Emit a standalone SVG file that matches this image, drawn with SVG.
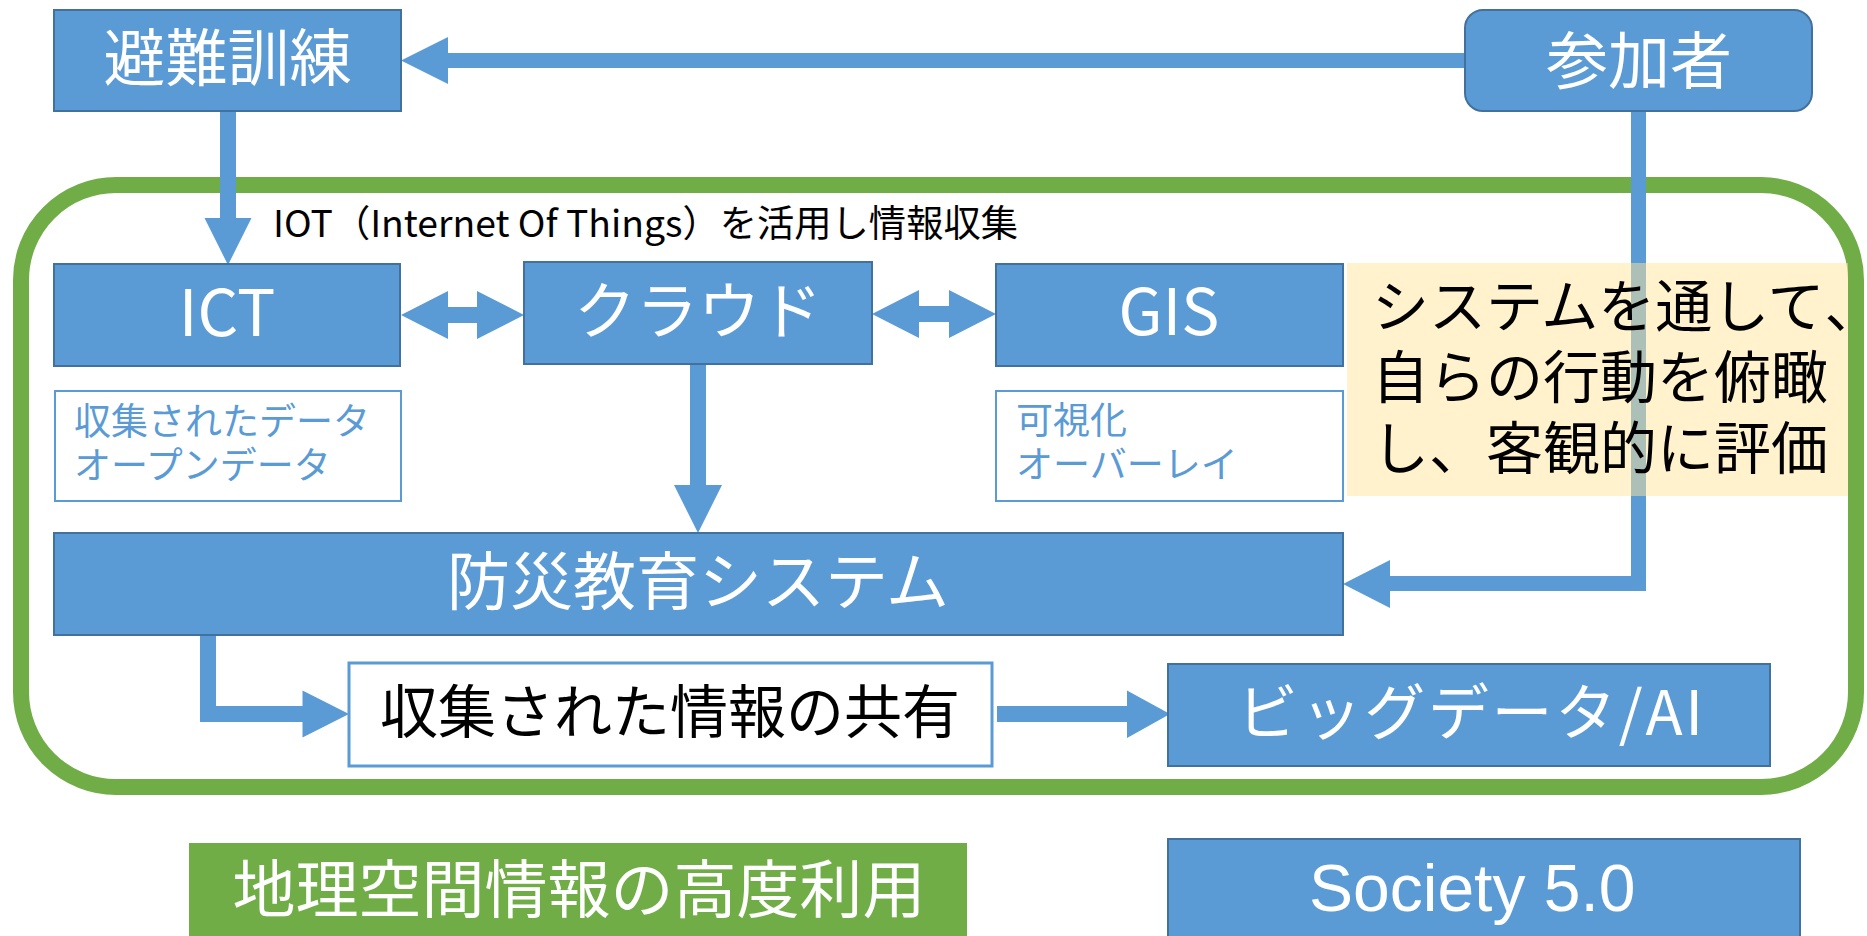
<svg xmlns="http://www.w3.org/2000/svg" width="1867" height="936" viewBox="0 0 1867 936">
<style>
text{font-family:"Noto Sans CJK JP","Noto Sans",sans-serif;}
.box{fill:#5B9BD5;stroke:#41719C;stroke-width:2;}
.wbox{fill:#FFFFFF;stroke:#5B9BD5;stroke-width:2;}
.arrow{fill:#5B9BD5;stroke:none;}
.wt{fill:#FFFFFF;}
.bt{fill:#000000;}
.st{fill:#5B9BD5;font-size:37px;}
.halt{font-feature-settings:"halt" 1;}
</style>
<rect id="frame" x="21" y="185" width="1835" height="602" rx="95" ry="95" fill="none" stroke="#70AD47" stroke-width="16"/>
<g id="connectors">
<polygon class="arrow" points="1466,53 448,53 448,37 401,60.5 448,84 448,68 1466,68"/>
<polygon class="arrow" points="220,111 236,111 236,218 251.5,218 228,265 204.5,218 220,218"/>
<polygon class="arrow" points="401,315 448,291 448,307 477,307 477,291 524,315 477,339 477,323 448,323 448,339"/>
<polygon class="arrow" points="872,314 919,290 919,306 949,306 949,290 996,314 949,338 949,322 919,322 919,338"/>
<polygon class="arrow" points="690,364 706,364 706,485 722,485 698,533 674,485 690,485"/>
<polygon class="arrow" points="200,635 216,635 216,706 302.5,706 302.5,690.5 349,714 302.5,737.5 302.5,722 200,722"/>
<polygon class="arrow" points="997,706 1127,706 1127,690.5 1170,714 1127,738 1127,722 997,722"/>
<polygon class="arrow" points="1631,111 1646,111 1646,591 1390,591 1390,608 1343,584 1390,560 1390,576 1631,576"/>
</g>
<g id="hinan">
<rect class="box" x="54" y="10" width="347" height="101"/>
<text class="wt" x="227.5" y="81" font-size="62" text-anchor="middle">避難訓練</text>
</g>
<g id="sankasha">
<rect class="box" x="1465" y="10" width="347" height="101" rx="18" ry="18"/>
<text class="wt" x="1639" y="84" font-size="62" text-anchor="middle">参加者</text>
</g>
<g id="iot-label">
<text class="bt" x="273" y="237" font-size="37" textLength="745" lengthAdjust="spacingAndGlyphs">IOT（Internet Of Things）を活用し情報収集</text>
</g>
<g id="ict">
<rect class="box" x="54" y="264" width="346" height="102"/>
<text class="wt" x="227" y="336" font-size="64" text-anchor="middle">ICT</text>
</g>
<g id="cloud">
<rect class="box" x="524" y="262" width="348" height="102"/>
<text class="wt" x="698" y="334" font-size="62" text-anchor="middle">クラウド</text>
</g>
<g id="gis">
<rect class="box" x="996" y="264" width="347" height="102"/>
<text class="wt" x="1169" y="335" font-size="64" text-anchor="middle">GIS</text>
</g>
<g id="collected-data">
<rect class="wbox" x="55" y="391" width="346" height="110"/>
<text class="st" x="74" y="435">収集されたデータ</text>
<text class="st" x="74" y="479">オープンデータ</text>
</g>
<g id="visualize">
<rect class="wbox" x="996" y="391" width="347" height="110"/>
<text class="st" x="1016" y="434">可視化</text>
<text class="st" x="1016" y="478">オーバーレイ</text>
</g>
<g id="bousai">
<rect class="box" x="54" y="533" width="1289" height="102"/>
<text class="wt" x="698" y="604" font-size="63" text-anchor="middle" textLength="502" lengthAdjust="spacing">防災教育システム</text>
</g>
<g id="share">
<rect x="349" y="663" width="643" height="103" fill="#FFFFFF" stroke="#5B9BD5" stroke-width="3"/>
<text class="bt" x="670" y="733" font-size="58" text-anchor="middle">収集された情報の共有</text>
</g>
<g id="bigdata">
<rect class="box" x="1168" y="664" width="602" height="102"/>
<text class="wt" x="1470" y="735" font-size="61" text-anchor="middle" textLength="466" lengthAdjust="spacing">ビッグデータ/AI</text>
</g>
<g id="note">
<rect x="1347" y="263" width="501" height="233" fill="#FFE699" fill-opacity="0.5"/>
<text class="bt" x="1372" y="327" font-size="57">システムを通して<tspan class="halt">、</tspan></text>
<text class="bt" x="1372" y="398" font-size="57">自らの行動を俯瞰</text>
<text class="bt" x="1372" y="469" font-size="57">し、客観的に評価</text>
</g>
<g id="geo-label">
<rect x="189" y="843" width="778" height="100" fill="#70AD47"/>
<text class="wt" x="579" y="912" font-size="63" text-anchor="middle">地理空間情報の高度利用</text>
</g>
<g id="society">
<rect class="box" x="1168" y="839" width="632" height="110"/>
<text class="wt" x="1309" y="911" font-size="66" style="font-family:'Liberation Sans',Arial,sans-serif">Society 5.0</text>
</g>
</svg>
